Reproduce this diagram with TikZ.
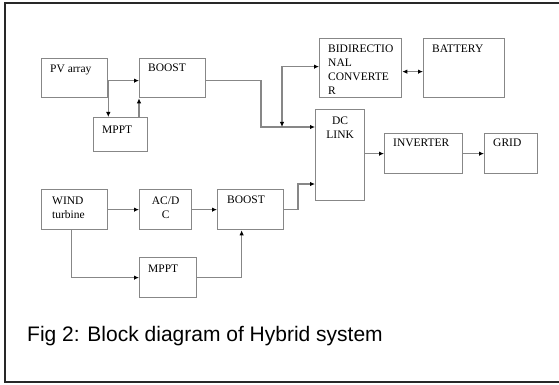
\documentclass[tikz,border=0pt]{standalone}
\usepackage{fontspec}
\setmainfont{Liberation Serif}
\setsansfont{Liberation Sans}
\usetikzlibrary{arrows.meta}

\definecolor{linegray}{RGB}{135,135,135}
\definecolor{framegray}{RGB}{40,40,40}

\tikzset{
  blk/.style={draw=linegray, line width=1.3pt, anchor=north west, inner sep=0pt},
  txt/.style={anchor=north west, inner sep=0pt, align=left, text=black,
    font=\fontsize{11.5}{14}\selectfont, label distance=0pt},
  ctxt/.style={txt, align=center},
  conn/.style={draw=linegray, line width=1.3pt,
    -{Latex[length=5pt,width=4.5pt,color=black]}},
  conn2/.style={conn, {Latex[length=5pt,width=4.5pt,color=black]}-{Latex[length=5pt,width=4.5pt,color=black]}},
}

\begin{document}
\begin{tikzpicture}[x=1pt,y=-1pt]

  % Ukuran gambar
  \useasboundingbox (0,0) rectangle (559,385);

  % Bingkai luar
  \draw[framegray, line width=1.8pt] (565,3) -- (5,3) -- (5,382) -- (565,382);

  % Cabang PV
  \node[blk, minimum width=66pt, minimum height=39pt,
    label={[txt, xshift=9pt, yshift=-7pt]north west:PV array}] (pv) at (41,58) {};
  \node[blk, minimum width=66pt, minimum height=39pt,
    label={[txt, xshift=9pt, yshift=-6pt]north west:BOOST}] (boostA) at (139,58) {};
  \node[blk, minimum width=54pt, minimum height=34pt,
    label={[txt, xshift=9pt, yshift=-9pt]north west:MPPT}] (mpptA) at (93,117) {};

  % Konverter dan baterai
  \node[blk, minimum width=82pt, minimum height=59pt,
    label={[txt, xshift=9pt, yshift=-7pt]north west:BIDIRECTIO\\NAL\\CONVERTE\\R}] (bidir) at (319,38) {};
  \node[blk, minimum width=81pt, minimum height=59pt,
    label={[txt, xshift=9pt, yshift=-7pt]north west:BATTERY}] (batt) at (423,38) {};

  % DC link, inverter, grid
  \node[blk, minimum width=49pt, minimum height=91pt,
    label={[ctxt, anchor=north, yshift=-8pt]north:DC\\LINK}] (dclink) at (315,109) {};
  \node[blk, minimum width=78pt, minimum height=40pt,
    label={[txt, xshift=9pt, yshift=-6pt]north west:INVERTER}] (inv) at (384,133) {};
  \node[blk, minimum width=53pt, minimum height=40pt,
    label={[txt, xshift=9pt, yshift=-6pt]north west:GRID}] (grid) at (484,133) {};

  % Cabang angin
  \node[blk, minimum width=66pt, minimum height=40pt,
    label={[txt, xshift=11pt, yshift=-8pt]north west:WIND\\turbine}] (wind) at (41,189) {};
  \node[blk, minimum width=52pt, minimum height=40pt,
    label={[ctxt, anchor=north, yshift=-8pt]north:AC/D\\C}] (acdc) at (139,189) {};
  \node[blk, minimum width=66pt, minimum height=40pt,
    label={[txt, xshift=10pt, yshift=-7pt]north west:BOOST}] (boostB) at (217,189) {};
  \node[blk, minimum width=57pt, minimum height=40pt,
    label={[txt, xshift=9pt, yshift=-8pt]north west:MPPT}] (mpptB) at (139,257) {};

  % Titik bantu
  \coordinate (p1) at ([yshift=-2.5pt]pv.east);
  \coordinate (j1) at (261,127);
  \coordinate (j2) at (282,127);
  \coordinate (j3) at (298,184);

  % Panah cabang PV
  \draw[conn] (p1) -- (p1 -| boostA.west);
  \draw[conn] (p1) -- (p1 |- mpptA.north);
  \draw[conn] (mpptA.north -| boostA.west) -- (boostA.south west);
  \draw[conn] ([yshift=-2.5pt]boostA.east) -| (j1) -- (j1 -| dclink.west);

  % Panah konverter
  \draw[conn2] ([yshift=1.5pt]bidir.west) -| (j2);
  \draw[conn2] ([yshift=-3.5pt]bidir.east) -- ([yshift=-3.5pt]batt.west);

  % Panah keluaran
  \draw[conn] (inv.west -| dclink.east) -- (inv.west);
  \draw[conn] (inv.east) -- (grid.west);

  % Panah cabang angin
  \draw[conn] (wind.east) -- (acdc.west);
  \draw[conn] (acdc.east) -- (boostB.west);
  \draw[conn] (boostB.east) -| (j3) -- (j3 -| dclink.west);
  \draw[conn] ([xshift=-3pt]wind.south) |- (mpptB.west);
  \draw[conn] (mpptB.east) -| ([xshift=-9pt]boostB.south);

  % Keterangan
  \node[anchor=base west, inner sep=0pt, font=\sffamily\fontsize{21}{25}\selectfont]
    (cap) at (27,341.5) {Fig 2: Block diagram of Hybrid system};

\end{tikzpicture}
\end{document}
